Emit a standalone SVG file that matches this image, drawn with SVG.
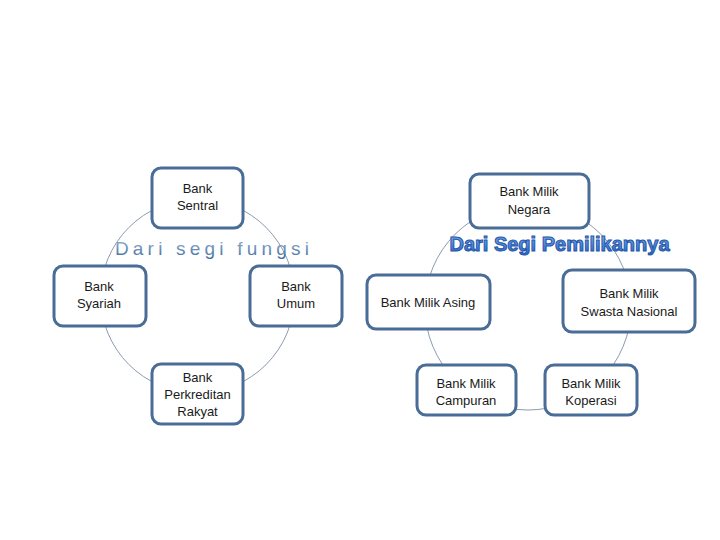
<svg xmlns="http://www.w3.org/2000/svg" width="720" height="540" viewBox="0 0 720 540">
<defs>
<linearGradient id="g1" x1="0" y1="0" x2="0" y2="1">
<stop offset="0" stop-color="#9db7d6"/>
<stop offset="1" stop-color="#3f6a9c"/>
</linearGradient>
<linearGradient id="g2" x1="0" y1="0" x2="0" y2="1">
<stop offset="0" stop-color="#7fb0f0"/>
<stop offset="1" stop-color="#2a62c4"/>
</linearGradient>
</defs>
<style>
.box{fill:#ffffff;stroke:#4a6d97;stroke-width:3}
.ring{fill:none;stroke:#8a9bb0;stroke-width:1}
.t{font-family:"Liberation Sans","Open Sans",sans-serif;font-size:13px;fill:#1a1a1a;text-anchor:middle}
</style>
<rect width="720" height="540" fill="#ffffff"/>
<g id="connectors">
<circle class="ring" cx="197.5" cy="296" r="97"/>
<circle class="ring" cx="528" cy="307" r="103"/>
</g>
<text x="214" y="255" font-family="Liberation Sans, sans-serif" font-size="19" letter-spacing="4.2" fill="url(#g1)" text-anchor="middle">Dari segi fungsi</text>
<text x="559.5" y="251" font-family="Liberation Sans, sans-serif" font-size="20" font-weight="bold" fill="url(#g2)" stroke="#2456a8" stroke-width="1" text-anchor="middle">Dari Segi Pemilikannya</text>
<g id="sentral"><rect class="box" x="152" y="168" width="91" height="60" rx="9"/><text class="t" x="197.5" y="193">Bank</text><text class="t" x="197.5" y="210">Sentral</text></g>
<g id="syariah"><rect class="box" x="54" y="266" width="92" height="60" rx="9"/><text class="t" x="99" y="291">Bank</text><text class="t" x="99" y="308">Syariah</text></g>
<g id="umum"><rect class="box" x="250" y="266" width="92" height="60" rx="9"/><text class="t" x="296" y="291">Bank</text><text class="t" x="296" y="308">Umum</text></g>
<g id="bpr"><rect class="box" x="152" y="364" width="91" height="60" rx="9"/><text class="t" x="197.5" y="382">Bank</text><text class="t" x="197.5" y="399">Perkreditan</text><text class="t" x="197.5" y="416">Rakyat</text></g>
<g id="negara"><rect class="box" x="470" y="174" width="119" height="54" rx="9"/><text class="t" x="529" y="196">Bank Milik</text><text class="t" x="529" y="214">Negara</text></g>
<g id="asing"><rect class="box" x="367" y="275" width="123" height="54" rx="9"/><text class="t" x="428" y="307">Bank Milik Asing</text></g>
<g id="swasta"><rect class="box" x="563" y="270" width="132" height="62" rx="9"/><text class="t" x="629" y="298">Bank Milik</text><text class="t" x="629" y="316">Swasta Nasional</text></g>
<g id="campuran"><rect class="box" x="417" y="365" width="99" height="50" rx="9"/><text class="t" x="466" y="388">Bank Milik</text><text class="t" x="466" y="405">Campuran</text></g>
<g id="koperasi"><rect class="box" x="545" y="365" width="92" height="50" rx="9"/><text class="t" x="591" y="388">Bank Milik</text><text class="t" x="591" y="405">Koperasi</text></g>
</svg>
